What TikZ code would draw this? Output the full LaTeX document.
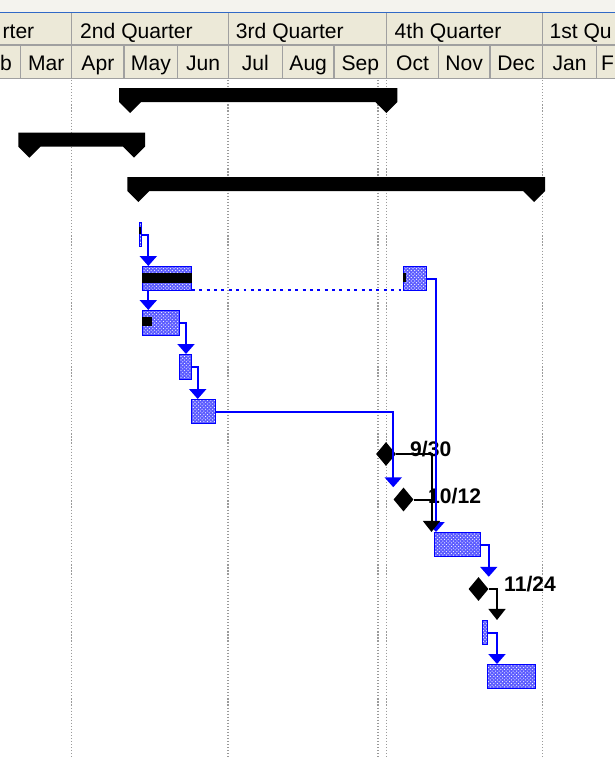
\documentclass[tikz,border=0pt]{standalone}
\usepackage{fontspec}
\newfontfamily\hdrfont{Liberation Sans}
\usetikzlibrary{
  shapes.geometric,
  arrows.meta,
  calc,
  patterns
}
\definecolor{hdrbg}{HTML}{ECE9D8}
\definecolor{topstrip}{HTML}{F4F3EE}
\definecolor{hdrline}{HTML}{3169C6}
\definecolor{sepgray}{HTML}{A0A0A0}
\definecolor{gridgray}{HTML}{9A9A9A}
\definecolor{taskblue}{HTML}{0000FF}
\definecolor{taskfill}{HTML}{5C5CFF}
\newcommand{\gpx}{0.03cm}
% summary bar: left, right, top
\newcommand{\sumbar}[3]{%
  \fill[black] (#1,#3) -- (#2,#3) -- (#2,#3+14) -- (#2-11,#3+25) -- (#2-22,#3+14)
    -- (#1+22,#3+14) -- (#1+11,#3+25) -- (#1,#3+14) -- cycle;}
\tikzset{
  qtext/.style={
    font={\hdrfont\fontsize{18}{20}\selectfont},
    text=black,
    inner sep=0pt,
    anchor=base west,
  },
  mtext/.style={
    qtext,
    anchor=base,
  },
  sep/.style={
    draw=sepgray,
    line width=1.2pt,
  },
  gridline/.style={
    draw=gridgray,
    line width=1pt,
    dash pattern=on 1pt off 1.6pt,
  },
  taskbar/.style={
    draw=taskblue,
    line width=1pt,
    preaction={fill=taskfill},
    pattern=crosshatch dots,
    pattern color=white,
    inner sep=0pt,
    anchor=north west,
    minimum height=24*\gpx,
  },
  milestone/.style={
    diamond,
    fill=black,
    inner sep=0pt,
    minimum width=20*\gpx,
    minimum height=24*\gpx,
  },
  mlabel/.style={
    font={\hdrfont\fontsize{18}{20}\selectfont\bfseries},
    text=black,
    inner sep=0pt,
    anchor=base west,
  },
  link/.style={
    -{Triangle[length=8.5pt, width=14.5pt]},
    line width=1.7pt,
    draw=taskblue,
  },
  dep/.style={
    -{Triangle[length=9.5pt, width=14.5pt]},
    line width=1.7pt,
    draw=black,
  },
  depline/.style={
    line width=1.7pt,
    draw=black,
  },
  splitline/.style={
    line width=2.2pt,
    draw=taskblue,
    dash pattern=on 2.5pt off 3.8pt,
  },
}

\begin{document}
\begin{tikzpicture}[x=\gpx, y=-\gpx]

\useasboundingbox (0,0) rectangle (615,759);
\clip (0,0) rectangle (615,759);
\fill[white] (0,0) rectangle (615,759);

% === HEADER ===

\fill[topstrip] (0,0) rectangle (615,12);
\draw[hdrline, line width=1.2pt] (0,12.5) -- (615,12.5);
\fill[hdrbg] (0,13.3) rectangle (615,78.3);
\draw[sep] (0,45) -- (615,45) (0,78.3) -- (615,78.3);
% quarters
\draw[sep] (71.7,13.3) -- (71.7,78.3) (228.3,13.3) -- (228.3,78.3)
  (386.7,13.3) -- (386.7,78.3) (542.3,13.3) -- (542.3,78.3);
% months
\draw[sep] (20.7,45) -- (20.7,78.3) (124,45) -- (124,78.3)
  (177.7,45) -- (177.7,78.3) (282.3,45) -- (282.3,78.3)
  (334,45) -- (334,78.3) (438.3,45) -- (438.3,78.3)
  (490,45) -- (490,78.3) (596.7,45) -- (596.7,78.3);

\node[qtext, anchor=base east] (q1) at (34.5,39) {rter};
\node[qtext] (q2) at (80,39) {2nd Quarter};
\node[qtext] (q3) at (235.7,39) {3rd Quarter};
\node[qtext] (q4) at (394.5,39) {4th Quarter};
\node[qtext] (q5) at (549.3,39) {1st Qu};

\node[mtext, anchor=base east] (feb) at (12,70.5) {b};
\node[mtext] (mar) at (46.2,70.5) {Mar};
\node[mtext] (apr) at (97.9,70.5) {Apr};
\node[mtext] (may) at (150.9,70.5) {May};
\node[mtext] (jun) at (203,70.5) {Jun};
\node[mtext] (jul) at (255.3,70.5) {Jul};
\node[mtext] (aug) at (308.2,70.5) {Aug};
\node[mtext] (sep) at (360.4,70.5) {Sep};
\node[mtext] (oct) at (412.5,70.5) {Oct};
\node[mtext] (nov) at (464.2,70.5) {Nov};
\node[mtext] (dec) at (516.2,70.5) {Dec};
\node[mtext] (jan) at (569.5,70.5) {Jan};
\node[mtext, anchor=base west] (feb2) at (601,70.5) {F};

% === GRID ===

\draw[gridline] (71.7,80) -- (71.7,759) (228,80) -- (228,759)
  (378,80) -- (378,759) (386.3,80) -- (386.3,759) (542.5,80) -- (542.5,759);

% === SUMMARY BARS ===

\sumbar{119}{397.3}{88}
\sumbar{18.3}{145}{132.7}
\sumbar{127.3}{545}{177}

% === TASKS ===

\node[taskbar, minimum width=2*\gpx] (tstart) at (139,222) {};
\node[taskbar, minimum width=49*\gpx] (tA) at (141.7,266) {};
\node[taskbar, minimum width=23*\gpx] (tA2) at (403,266) {};
\node[taskbar, minimum width=37.3*\gpx, minimum height=25*\gpx] (tB) at (141.7,310) {};
\node[taskbar, minimum width=11.4*\gpx, minimum height=25*\gpx] (tC) at (179.3,354) {};
\node[taskbar, minimum width=24*\gpx] (tD) at (191,399) {};
\node[taskbar, minimum width=46*\gpx] (tE) at (434,532) {};
\node[taskbar, minimum width=5*\gpx] (tG) at (481.7,620) {};
\node[taskbar, minimum width=48*\gpx] (tF) at (487,664) {};

% progress marks
\fill[black] ($(tstart.north west)+(0,5)$) rectangle ($(tstart.north west)+(1.5,12)$);
\fill[black] ($(tA.north west)+(0,7)$) rectangle ($(tA.south east)+(0,-8)$);
\fill[black] ($(tA2.north west)+(0,7)$) rectangle ($(tA2.north west)+(3,16)$);
\fill[black] ($(tB.north west)+(0,7)$) rectangle ($(tB.north west)+(10,16)$);

% === MILESTONES ===

\node[milestone] (m1) at (386,454) {};
\node[milestone] (m2) at (403.5,499.5) {};
\node[milestone] (m3) at (478.5,589) {};

\node[mlabel] (l930) at (410,456.5) {9/30};
\node[mlabel] (l1012) at (428,503) {10/12};
\node[mlabel] (l1124) at (504,591.5) {11/24};

% === LINKS ===

\draw[link] (tstart.east) -| ($(tA.north west)+(6.6,0)$);
\draw[link] ($(tA.south west)+(6.6,0)$) -- ($(tB.north west)+(6.6,0)$);
\draw[link] (tB.east) -| ($(tC.north west)+(6.7,0)$);
\draw[link] (tC.east) -| ($(tD.north west)+(6.7,0)$);
\draw[link] (tD.east) -| (m2.west |- m2.north);

% split task
\draw[splitline] ($(tA.south east)+(0,-1)$) -- ($(tA2.south west)+(0,-1)$);

\coordinate (ejoin) at ($(tE.north west)+(-2.5,0)$);
\draw[link] (tA2.east) -| ($(tE.north west)+(2,0)$);
\draw[dep] (m1.east) -| (ejoin);
\draw[depline] (m2.east) -- (m2.east -| ejoin);

\draw[link] (tE.east) -| (m3.east |- m3.north);

\coordinate (fjoin) at ($(tF.north west)+(10,0)$);
\draw[dep] (m3.east) -| (fjoin |- tG.north);
\draw[link] (tG.east) -| (fjoin);

\end{tikzpicture}
\end{document}
